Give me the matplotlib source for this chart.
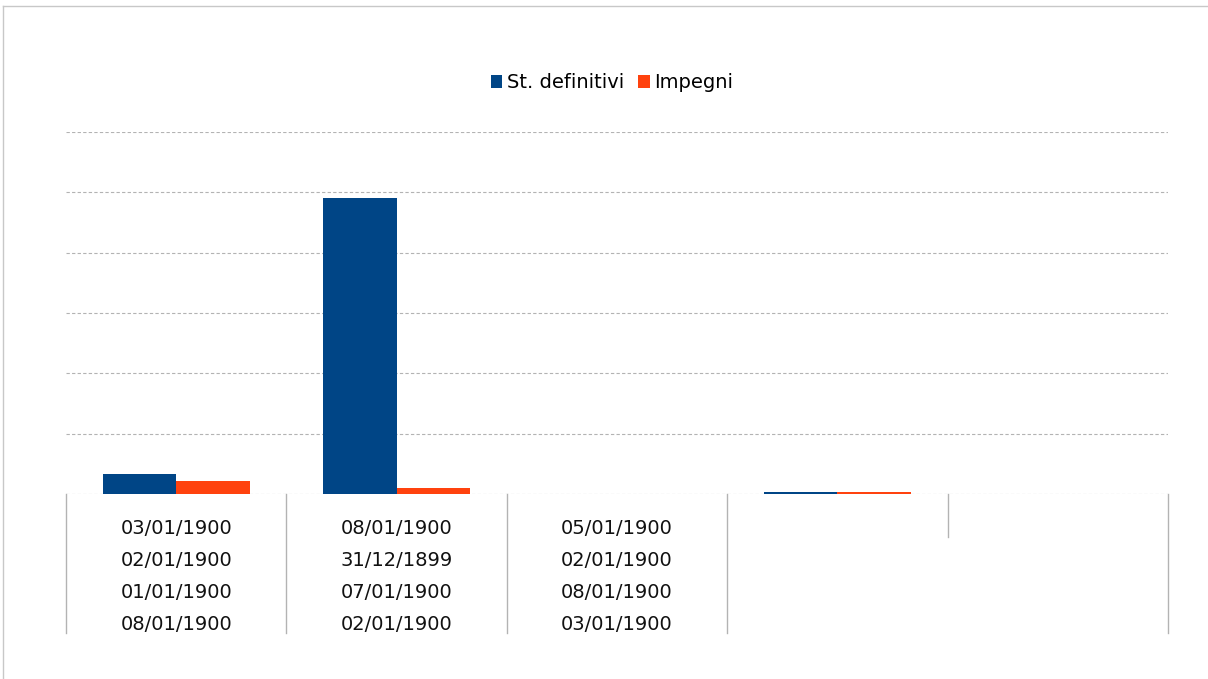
import matplotlib
matplotlib.use("Agg")
import matplotlib.pyplot as plt
from matplotlib.lines import Line2D
import numpy as np

series_names = ["St. definitivi", "Impegni"]
colors = ["#004586", "#ff420e"]
st_definitivi = [0.33, 4.91, 0.0, 0.025, 0.0]
impegni = [0.215, 0.10, 0.0, 0.025, 0.0]
category_labels = [
    ["03/01/1900", "02/01/1900", "01/01/1900", "08/01/1900"],
    ["08/01/1900", "31/12/1899", "07/01/1900", "02/01/1900"],
    ["05/01/1900", "02/01/1900", "08/01/1900", "03/01/1900"],
    [],
    [],
]
y_ticks = [0, 1, 2, 3, 4, 5, 6]

fig = plt.figure(figsize=(12.08, 6.79), dpi=100)
ax = fig.add_axes([66 / 1208, 1 - 494 / 679, 1102 / 1208, 362 / 679])

x = np.arange(len(st_definitivi))
w = 1 / 3
ax.bar(x - w / 2, st_definitivi, width=w, color=colors[0], label=series_names[0])
ax.bar(x + w / 2, impegni, width=w, color=colors[1], label=series_names[1])

ax.set_xlim(-0.5, len(x) - 0.5)
ax.set_ylim(0, 6)
ax.set_yticks(y_ticks)
ax.set_yticklabels([])
ax.set_xticks([])
ax.tick_params(left=False)
for s in ax.spines.values():
    s.set_visible(False)
ax.grid(axis="y", color="#b3b3b3", linestyle=(0, (3, 2)), linewidth=0.8)
ax.set_axisbelow(True)

# category label cells
tr = ax.get_xaxis_transform()
h = ax.bbox.height
for i in range(len(x) + 1):
    depth = 43 if i == 4 else 139
    ax.add_line(Line2D([i - 0.5, i - 0.5], [0, -depth / h], transform=tr,
                       color="#b3b3b3", linewidth=1, clip_on=False))
for i, lines in enumerate(category_labels):
    for j, txt in enumerate(lines):
        ax.annotate(txt, xy=(i, 0), xycoords=tr, xytext=(0, -35 - 32 * j),
                    textcoords="offset pixels", ha="center", va="center",
                    fontsize=14, color="#111111")

leg = fig.legend(loc="center", bbox_to_anchor=(612 / 1208, 1 - 83 / 679), ncol=2,
                 frameon=False, fontsize=14, handlelength=0.6, handleheight=0.6,
                 handletextpad=0.25, columnspacing=0.7)

# outer border
fig.add_artist(Line2D([3 / 1208, 1], [1 - 6 / 679, 1 - 6 / 679], transform=fig.transFigure,
                      color="#c8c8c8", linewidth=1))
fig.add_artist(Line2D([3 / 1208, 3 / 1208], [0, 1 - 6 / 679], transform=fig.transFigure,
                      color="#c8c8c8", linewidth=1))

fig.savefig("out.png", dpi=100)
